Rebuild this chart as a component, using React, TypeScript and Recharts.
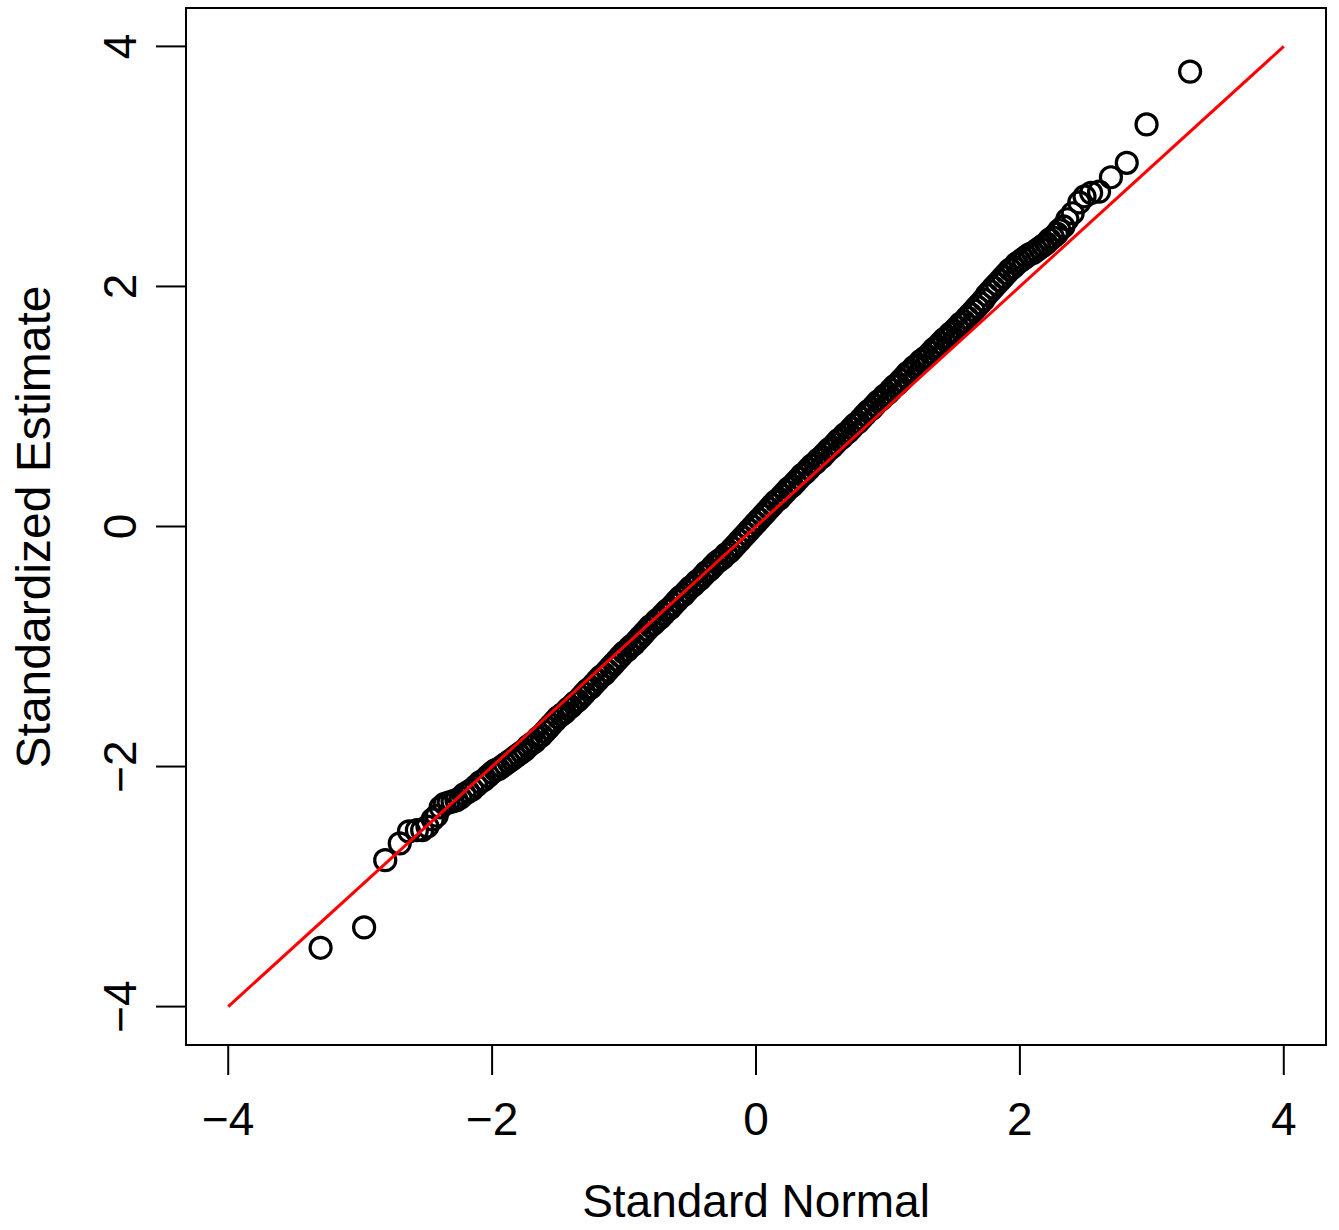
import React from 'react'
import { ReferenceArea, Scatter, ScatterChart, XAxis, YAxis } from 'recharts'

// theoretical normal quantiles (x) and standardized estimates (y)
const normalQ = [
  -3.3, -2.97, -2.81, -2.7, -2.63, -2.57, -2.53, -2.49, -2.45, -2.42, -2.39, -2.36, -2.33, -2.3,
  -2.27, -2.24, -2.21, -2.18, -2.15, -2.12, -2.09, -2.06, -2.03,
  -2.0, -1.975, -1.95, -1.925, -1.9, -1.875, -1.85, -1.825, -1.8, -1.775, -1.75, -1.725,
  -1.7, -1.675, -1.65, -1.625, -1.6, -1.575, -1.55, -1.525, -1.5, -1.475, -1.45, -1.425,
  -1.4, -1.375, -1.35, -1.325, -1.3, -1.275, -1.25, -1.225, -1.2, -1.175, -1.15, -1.125,
  -1.1, -1.075, -1.05, -1.025, -1.0, -0.975, -0.95, -0.925, -0.9, -0.875, -0.85, -0.825,
  -0.8, -0.775, -0.75, -0.725, -0.7, -0.675, -0.65, -0.625, -0.6, -0.575, -0.55, -0.525,
  -0.5, -0.475, -0.45, -0.425, -0.4, -0.375, -0.35, -0.325, -0.3, -0.275, -0.25, -0.225,
  -0.2, -0.175, -0.15, -0.125, -0.1, -0.075, -0.05, -0.025,
  0.0, 0.025, 0.05, 0.075, 0.1, 0.125, 0.15, 0.175, 0.2, 0.225, 0.25, 0.275,
  0.3, 0.325, 0.35, 0.375, 0.4, 0.425, 0.45, 0.475, 0.5, 0.525, 0.55, 0.575,
  0.6, 0.625, 0.65, 0.675, 0.7, 0.725, 0.75, 0.775, 0.8, 0.825, 0.85, 0.875,
  0.9, 0.925, 0.95, 0.975, 1.0, 1.025, 1.05, 1.075, 1.1, 1.125, 1.15, 1.175,
  1.2, 1.225, 1.25, 1.275, 1.3, 1.325, 1.35, 1.375, 1.4, 1.425, 1.45, 1.475,
  1.5, 1.525, 1.55, 1.575, 1.6, 1.625, 1.65, 1.675, 1.7, 1.725, 1.75, 1.775,
  1.8, 1.825, 1.85, 1.875, 1.9, 1.925, 1.95, 1.975, 2.0, 2.025, 2.05, 2.075,
  2.1, 2.125, 2.15, 2.175, 2.2, 2.225, 2.25,
  2.28, 2.3, 2.33, 2.36, 2.4, 2.45, 2.49, 2.54, 2.6, 2.69, 2.81, 2.96, 3.29,
]

const estimate = [
  -3.51, -3.34, -2.78, -2.64, -2.54, -2.53, -2.53, -2.5, -2.44, -2.41, -2.34, -2.31, -2.3, -2.29,
  -2.28, -2.26, -2.23, -2.21, -2.19, -2.16, -2.13, -2.11, -2.08,
  -2.05, -2.03, -2.02, -2.0, -1.98, -1.96, -1.94, -1.92, -1.9, -1.88, -1.86, -1.83,
  -1.81, -1.79, -1.76, -1.74, -1.71, -1.68, -1.65, -1.62, -1.59, -1.57, -1.55, -1.52,
  -1.5, -1.47, -1.45, -1.42, -1.39, -1.36, -1.34, -1.31, -1.28, -1.25, -1.23, -1.2,
  -1.17, -1.14, -1.11, -1.08, -1.05, -1.03, -1.0, -0.98, -0.95, -0.92, -0.89, -0.86,
  -0.83, -0.81, -0.78, -0.76, -0.73, -0.7, -0.68, -0.65, -0.62, -0.59, -0.57, -0.54,
  -0.51, -0.49, -0.46, -0.44, -0.41, -0.38, -0.36, -0.33, -0.3, -0.28, -0.26, -0.23,
  -0.21, -0.18, -0.15, -0.12, -0.09, -0.06, -0.03, 0.0,
  0.03, 0.06, 0.09, 0.12, 0.15, 0.18, 0.21, 0.23, 0.26, 0.29, 0.32, 0.34,
  0.37, 0.4, 0.43, 0.45, 0.48, 0.51, 0.53, 0.56, 0.58, 0.61, 0.64, 0.66,
  0.69, 0.72, 0.74, 0.77, 0.79, 0.82, 0.85, 0.87, 0.9, 0.93, 0.96, 0.98,
  1.01, 1.04, 1.06, 1.09, 1.11, 1.14, 1.17, 1.19, 1.22, 1.25, 1.28, 1.3,
  1.33, 1.35, 1.38, 1.4, 1.42, 1.45, 1.48, 1.5, 1.53, 1.56, 1.58, 1.61,
  1.63, 1.66, 1.69, 1.71, 1.74, 1.77, 1.8, 1.83, 1.86, 1.89, 1.93, 1.96,
  1.99, 2.02, 2.05, 2.08, 2.11, 2.14, 2.16, 2.19, 2.21, 2.23, 2.25, 2.27,
  2.28, 2.3, 2.32, 2.34, 2.36, 2.39, 2.41,
  2.44, 2.47, 2.5, 2.56, 2.61, 2.7, 2.75, 2.78, 2.79, 2.91, 3.03, 3.35, 3.79,
]

// reference line y = x, drawn from -4 to 4
const refLine = [
  { q: -4, est: -4 },
  { q: 4, est: 4 },
]

const axisTicks = [-4, -2, 0, 2, 4]
const lim = 4.32

const data = normalQ.map((q, i) => ({ q, est: estimate[i] }))

const font = '"Liberation Sans", Arial, Helvetica, sans-serif'
const fmt = (v: number) => (v < 0 ? `\u2212${-v}` : `${v}`)

const XTick = ({ x, y, payload }: any) => (
  <text x={x} y={y + 60} textAnchor='middle' fontFamily={font} fontSize={46} fill='#000'>
    {fmt(payload.value)}
  </text>
)

const YTick = ({ x, y, payload }: any) => {
  const tx = x - 20
  return (
    <text x={tx} y={y} transform={`rotate(-90 ${tx} ${y})`} textAnchor='middle' fontFamily={font} fontSize={46} fill='#000'>
      {fmt(payload.value)}
    </text>
  )
}

const Ring = (p: any) => <circle cx={p.cx} cy={p.cy} r={10.5} fill='none' stroke='#000' strokeWidth={3.2} />
const NoDot = () => <g />

export default function App() {
  return (
    <div style={{ position: 'absolute', left: 0, top: 0, background: '#fff' }}>
      <ScatterChart width={1339} height={1230} margin={{ top: 8, right: 13, left: 0, bottom: 0 }}>
        <XAxis type='number' dataKey='q' domain={[-lim, lim]} allowDataOverflow ticks={axisTicks} interval={0}
          height={185} tickSize={30} tickMargin={0} axisLine={false} stroke='#000'
          tickLine={{ stroke: '#000', strokeWidth: 2 }} tick={<XTick />} />
        <YAxis type='number' dataKey='est' domain={[-lim, lim]} allowDataOverflow ticks={axisTicks} interval={0}
          width={186} tickSize={30} tickMargin={0} axisLine={false} stroke='#000'
          tickLine={{ stroke: '#000', strokeWidth: 2 }} tick={<YTick />} />
        <ReferenceArea x1={-lim} x2={lim} y1={-lim} y2={lim} fill='none' stroke='#000' strokeWidth={2} ifOverflow='visible' />
        <Scatter data={data} shape={Ring} isAnimationActive={false} />
        <Scatter data={refLine} line={{ stroke: '#ff0000', strokeWidth: 3 }} shape={NoDot} isAnimationActive={false} />
      </ScatterChart>
      <svg width={1339} height={1230} style={{ position: 'absolute', left: 0, top: 0, pointerEvents: 'none' }}>
        <text x={756} y={1217} textAnchor='middle' fontFamily={font} fontSize={46} fill='#000'>Standard Normal</text>
        <text x={50} y={527} transform='rotate(-90 50 527)' textAnchor='middle' fontFamily={font} fontSize={48} fill='#000'>
          Standardized Estimate
        </text>
      </svg>
    </div>
  )
}
